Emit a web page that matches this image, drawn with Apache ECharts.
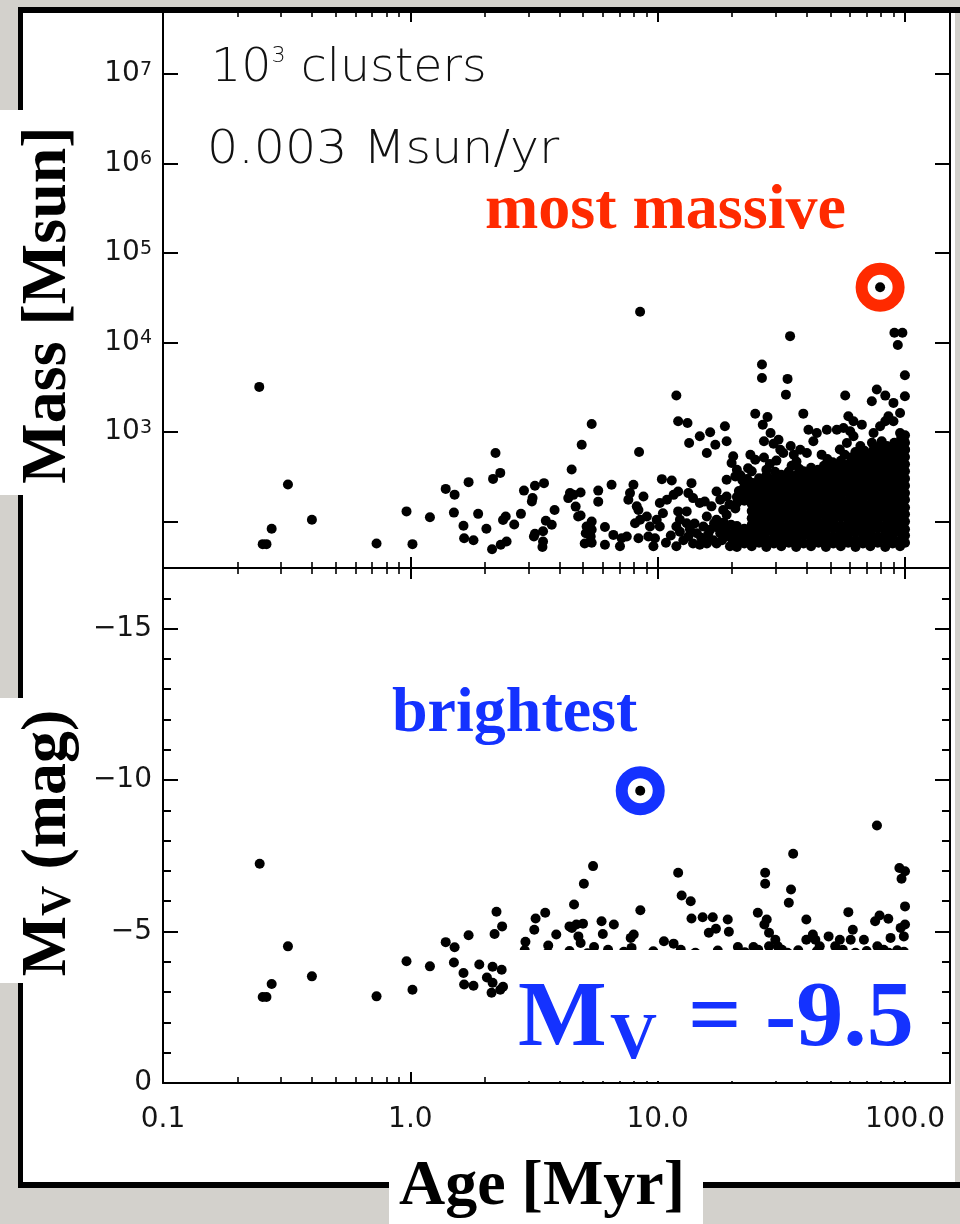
<!DOCTYPE html>
<html>
<head>
<meta charset="utf-8">
<title>Cluster mass and brightness versus age</title>
<script src="https://cdn.jsdelivr.net/npm/echarts@6/dist/echarts.min.js"></script>
<style>
html, body { margin: 0; padding: 0; background: #d3d1cc; }
#chart { width: 960px; height: 1224px; }
</style>
</head>
<body>
<div id="chart"></div>
<script>
// ---------- axis ranges / tick labels ----------
const ageRange = [0.1, 152];
const ageTickLabels = ['0.1', '1.0', '10.0', '100.0'];
const massRange = [30.3, 5.07e7];
const magRange = [-17, 0];

// ---------- texts ----------
const massTitle = 'Mass [Msun]';
const ageTitle = 'Age [Myr]';
const rateText = '0.003 Msun/yr';
const massiveLabel = 'most massive';
const brightLabel = 'brightest';

// ---------- upper panel: cluster mass [Msun] vs age [Myr] ----------
const massYoung = [
 [0.245,3200],[0.32,260],[0.275,83],[0.253,56],[0.262,56],[0.40,105],[0.73,57],[0.965,130],[1.02,56],[1.2,112],
 [1.39,232],[1.51,200],[1.72,276],[1.5,126],[1.64,90],[1.65,65],[1.8,62],[1.88,122],[2.03,83],[2.21,583],
 [2.16,300],[2.31,350],[2.37,104],[2.43,114],[2.14,49],[2.32,55],[2.45,60],[2.63,93],[2.8,122],[2.88,222],
 [3.19,251],[3.47,269],[3.12,183],[3.1,168],[3.83,135],[3.53,102],[3.73,92],[3.44,78],[3.19,73],[3.16,68],
 [3.44,60],[3.42,52],[4.49,382],[4.93,723],[5.41,1230],[4.35,183],[4.56,199],[4.88,211],[4.42,208],[4.66,147],
 [4.77,114],[4.88,117],[5.41,100],[5.16,88],[5.41,81],[5.12,74],[5.36,68],[5.07,57],[5.41,58],[5.75,222],[5.75,167]
];
const massMid = [
 [6.51,258],[6.12,87],[6.12,55],[6.62,71],[7.15,65],[7.04,53],[7.50,68],[7.73,208],[7.98,258],[7.61,175],
 [8.23,148],[8.76,191],[8.36,135],[8.49,105],[8.10,96],[9.04,114],[9.31,88],[8.36,65],[9.17,68],[9.75,65],
 [9.61,53],[8.41,598],[8.49,22100],[10.4,298],[11.4,288],[10.2,161],[10.9,175],[11.6,199],[12.1,217],[9.91,105],
 [10.5,124],[10.2,88],[12.1,130],[13.1,130],[12.3,105],[11.9,88],[13.7,269],[13.3,208],[13.9,183],[14.8,161],
 [15.5,168],[13.1,96],[12.3,77],[13.3,68],[14.4,74],[11.9,53],[13.9,57],[14.8,55],[17.3,217],[17.9,175],
 [16.5,148],[19.0,191],[15.8,114],[17.3,105],[19.0,119],[16.3,81],[17.9,74],[15.8,57],[17.3,57],[19.0,68],
 [19.6,53],[11.9,2560],[12.1,1320],[13.2,1265],[13.4,755],[14.8,897],[16.3,994],[15.8,583],[17.1,723],[18.7,1160],
 [19.0,789],[20.2,536],[19.9,451],[19.0,293],
 [10.8,58],[11.3,70],[12.7,62],[13.5,82],[14.1,95],[15.0,66],[15.3,88],[16.0,72],[16.8,62],[16.9,95],
 [17.6,85],[18.2,62],[18.5,98],[18.9,80],[19.8,92],[20.1,62],[20.4,75],[20.6,140],[19.5,155],[18.4,135],
 [21.3,220],[22.0,290],[21.6,330],[23.0,300],[23.2,395]
];
const massOldHigh = [
 [20.9,379],[20.6,320],[23.7,558],[24.8,491],[24.0,364],[34.3,11800],[90.6,12900],[97.6,12900],[93.5,9380],[26.4,5690],
 [26.4,4030],[33.5,3930],[33.0,2620],[99.9,4320],[99.9,2510],[57.3,2560],[24.8,1600],[27.8,1476],[26.6,1210],[38.8,1607],
 [28.6,977],[26.9,789],[29.4,741],[30.8,822],[31.3,635],[32.2,583],[40.7,1064],[44.0,977],[48.3,1064],[53.0,1064],
 [42.6,789],[37.7,636],[40.1,583],[59.0,1500],[61.9,1320],[66.9,1211],[56.4,1112],[60.0,1021],[61.9,897],[58.2,755],
 [76.9,2985],[83.2,2557],[73.4,2210],[89.8,2120],[85.7,1500],[83.2,1320],[95.5,1637],[89.8,1320],[79.3,1160],[74.6,977],
 [95.5,977],[80.5,789],[98.6,755],[89.8,636],[74.6,636],[79.3,41500]
];
const massOldLace = [
 [26.9,520],[28.4,440],[30.2,480],[27.5,380],[29.8,360],[34.5,700],[35.5,560],[36.4,470],[34.8,420],[37.3,390],
 [46,560],[48.5,500],[51,460],[47,420],[44.5,380],[52.5,380],[54.5,640],[57,560],[60.5,520],[63,600],
 [55.5,450],[62,430],[58.5,400],[66,700],[68.5,620],[71,560],[73.5,760],[75.5,520],[78,680],[80,600],
 [82,540],[84.5,700],[86.5,620],[88.5,520],[90.5,760],[92.5,580],[94.5,680],[96.5,860],[98.5,560],[100,920],
 [100,640],[99,800],[97,480],[93,470],[87,440],[81,460],[76,430],[70,470],[67,520]
];
// dense old low-mass clusters, read column by column (age) from the solid blob
const blobAges = [20.9,22.4,24.0,25.7,27.5,29.5,31.6,33.9,36.3,38.9,41.7,44.7,47.9,51.3,55.0,58.9,63.1,67.6,72.4,77.6,83.2,89.1,95.5,100];
const blobMasses = [
 [52,62,75,89,161,188],
 [57,69,83,171,208,247],
 [53,63,76,92,109,131,157,190,228,272],
 [58,70,84,100,121,146,175,210,252,305],
 [52,63,77,91,111,133,159,192,230,276,328],
 [57,68,82,99,119,144,173,208,250,300],
 [53,64,76,90,110,132,157,190,228,274,333],
 [58,69,84,101,121,145,175,211,252,303,362],
 [52,62,75,92,111,133,159,192,231,277,330],
 [57,70,83,100,119,146,173,208,250,301,365],
 [53,63,77,91,109,131,158,190,229,274,332,400],
 [58,69,82,99,121,144,175,210,253,303,361],
 [52,64,76,92,110,133,157,191,228,276,330,396],
 [57,68,84,101,120,146,174,209,251,300,364,438],
 [53,63,75,90,111,132,159,192,230,275,333,399,477],
 [58,70,83,100,119,145,173,211,250,302,362,435],
 [52,62,77,91,110,131,158,190,229,277,331,397,481],
 [57,69,82,99,121,144,175,208,252,301,363,438,524],
 [53,64,76,92,109,133,157,191,228,274,330,400,478],
 [58,68,84,100,120,146,174,210,251,303,364,436,527],
 [52,63,75,91,111,132,159,190,230,276,332,398,480,574],
 [57,69,83,101,119,145,173,209,250,300,362,437,525,633],
 [53,62,77,90,110,131,158,192,229,275,331,399,477,576,690],
 [58,70,82,100,121,144,175,208,252,302,365,436,526,630,760]
];
const mostMassive = [79.3, 41500];

// ---------- lower panel: absolute V magnitude vs age ----------
const magYoung = [
 [0.246,-7.24],[0.32,-4.51],[0.275,-3.27],[0.253,-2.84],[0.262,-2.84],[0.40,-3.52],[0.73,-2.86],[0.965,-4.02],[1.02,-3.08],[1.2,-3.85],
 [1.39,-4.65],[1.51,-4.48],[1.72,-4.88],[1.5,-3.98],[1.64,-3.63],[1.65,-3.25],[1.8,-3.21],[1.9,-3.91],[2.15,-3.84],[2.34,-3.74],
 [2.04,-3.48],[2.15,-3.31],[2.37,-3.18],[2.13,-2.98],[2.31,-3.08]
];
const magBright = [
 [2.23,-5.65],[2.35,-5.17],[2.19,-4.92],[2.92,-4.66],[3.17,-5.06],[3.21,-5.43],[3.51,-5.62],[3.89,-4.90],[3.61,-4.54],[4.59,-5.89],
 [5.03,-6.58],[5.48,-7.16],[4.40,-5.17],[4.69,-5.23],[4.99,-5.26],[4.50,-5.12],[4.78,-4.84],[4.88,-4.62],[5.53,-4.49],[5.93,-5.34],
 [6.65,-5.23],[6.0,-4.92],[7.78,-4.79],[8.0,-4.90],[7.84,-4.46],[8.51,-5.70],[10.6,-4.68],[11.6,-4.60],[12.1,-6.94],[12.5,-6.19],
 [13.6,-6.0],[13.7,-5.43],[15.2,-5.47],[16.7,-5.47],[19.2,-5.40],[16.1,-4.96],[17.2,-5.09],[19.4,-4.99],[21.1,-4.49],[24.4,-4.49],
 [25.4,-5.62],[27.6,-5.40],[27.0,-5.23],[28.2,-4.96],[29.9,-4.73],[30.6,-4.51],[28.2,-4.51],[31.8,-4.40],[27.2,-6.94],[27.2,-6.58],
 [35.3,-7.57],[34.6,-6.39],[33.9,-5.95],[39.9,-5.40],[42.4,-4.90],[43.4,-4.73],[39.9,-4.73],[49.1,-4.84],[54.5,-4.73],[52.2,-4.51],
 [45.2,-4.51],[60.3,-4.73],[59.0,-5.64],[61.5,-5.06],[68.2,-4.73],[75.7,-5.34],[78.9,-5.53],[85.6,-5.42],[77.3,-4.51],[87.4,-4.79],
 [98.9,-4.84],[94.9,-7.10],[100,-6.99],[96.8,-6.74],[100,-5.83],[100,-5.23],[96,-5.12],[77,-8.5],[8.5,-9.65]
];
const magFaint = [
 [2.9,-4.38],[3.6,-4.3],[4.4,-4.36],[5.2,-4.28],[6.3,-4.4],[7.3,-4.33],[9.6,-4.35],[12.4,-4.4],[14.2,-4.3],[17.5,-4.37],
 [22.5,-4.32],[25.5,-4.4],[33.5,-4.3],[37,-4.38],[44,-4.35],[56,-4.4],[63,-4.3],[70,-4.36],[82,-4.4],[86,-4.3],[93,-4.38],[99,-4.33]
];
const brightest = [8.5, -9.65];
const brightestMag = '-9.5';

// ---------- build series data from the arrays ----------
const upperPoints = [].concat(massYoung, massMid, massOldHigh, massOldLace);
blobAges.forEach((a, i) => blobMasses[i].forEach(m => upperPoints.push([a, m])));
const lowerPoints = [].concat(magYoung, magBright, magFaint);

// ---------- styling ----------
const BLACK = '#000';
const RED = '#ff2a00';
const BLUE = '#1432ff';
const SERIF = '"Liberation Serif", "Times New Roman", serif';
const SANS = '"DejaVu Sans", sans-serif';
const TICKC = '#151515';

function fmtAge(v) {
  const l = Math.log10(v), e = Math.round(l);
  if (Math.abs(l - e) > 1e-6) return '';
  return ageTickLabels[e + 1] || '';
}
function fmtMass(v) {
  const l = Math.log10(v), e = Math.round(l);
  if (Math.abs(l - e) > 1e-6 || e < 3) return '';
  return '{b|10}{s|' + e + '}';
}
function fmtMag(v) {
  if (v === magRange[0]) return '';
  return v < 0 ? '\u2212' + (-v) : '0';
}

const lineStyle = { color: BLACK, width: 2 };

function ageAxis(gridIndex, position, showLabel) {
  return {
    type: 'log', logBase: 10, gridIndex, position,
    min: ageRange[0], max: ageRange[1],
    axisLine: { show: true, onZero: false, lineStyle },
    axisTick: { show: true, inside: true, length: 11, lineStyle },
    minorTick: { show: true, splitNumber: 9, length: 6, lineStyle: { color: BLACK, width: 1.6 } },
    axisLabel: { show: showLabel, margin: 23, color: TICKC, fontFamily: SANS, fontSize: 28, formatter: fmtAge },
    splitLine: { show: false }, minorSplitLine: { show: false }
  };
}
function massAxis(position, showLabel) {
  return {
    type: 'log', logBase: 10, gridIndex: 0, position,
    min: massRange[0], max: massRange[1],
    axisLine: { show: true, onZero: false, lineStyle },
    axisTick: { show: true, inside: true, length: 15, lineStyle },
    minorTick: { show: false },
    axisLabel: {
      show: showLabel, margin: 11, formatter: fmtMass,
      rich: {
        b: { fontFamily: SANS, fontSize: 28, color: TICKC },
        s: { fontFamily: SANS, fontSize: 19, color: TICKC, verticalAlign: 'top' }
      }
    },
    splitLine: { show: false }
  };
}
function magAxis(position, showLabel) {
  return {
    type: 'value', gridIndex: 1, position, inverse: true,
    min: magRange[0], max: magRange[1], splitNumber: 3,
    axisLine: { show: true, onZero: false, lineStyle },
    axisTick: { show: true, inside: true, length: 15, lineStyle },
    minorTick: { show: true, splitNumber: 5, length: 8, lineStyle },
    axisLabel: { show: showLabel, margin: 11, color: TICKC, fontFamily: SANS, fontSize: 28, formatter: fmtMag },
    splitLine: { show: false }, minorSplitLine: { show: false }
  };
}

const graphic = [
  // photo frame
  { type: 'rect', z: -2, shape: { x: 18, y: 7, width: 937, height: 1181 }, style: { fill: '#fff' } },
  { type: 'rect', z: -1, shape: { x: 18, y: 7, width: 942, height: 6 }, style: { fill: BLACK } },
  { type: 'rect', z: -1, shape: { x: 18, y: 7, width: 5, height: 1181 }, style: { fill: BLACK } },
  { type: 'rect', z: -1, shape: { x: 18, y: 1182, width: 942, height: 6 }, style: { fill: BLACK } },
  // white label boxes
  { type: 'rect', z: 20, shape: { x: 0, y: 110, width: 88, height: 385 }, style: { fill: '#fff' } },
  { type: 'rect', z: 20, shape: { x: 0, y: 698, width: 88, height: 285 }, style: { fill: '#fff' } },
  { type: 'rect', z: 20, shape: { x: 389, y: 1160, width: 314, height: 64 }, style: { fill: '#fff' } },
  { type: 'rect', z: 20, shape: { x: 508, y: 950, width: 425, height: 131 }, style: { fill: '#fff' } },
  // axis titles
  { type: 'text', z: 21, x: 48, y: 305, rotation: Math.PI / 2,
    style: { text: massTitle, fontFamily: SERIF, fontWeight: 'bold', fontSize: 64, fill: BLACK, align: 'center', verticalAlign: 'middle' } },
  { type: 'text', z: 21, x: 48, y: 843, rotation: Math.PI / 2,
    style: { text: '{m|M}{v|V}{m| (mag)}', fill: BLACK, align: 'center', verticalAlign: 'middle',
      rich: { m: { fontFamily: SERIF, fontWeight: 'bold', fontSize: 64, fill: BLACK },
              v: { fontFamily: SERIF, fontWeight: 'bold', fontSize: 42, fill: BLACK, verticalAlign: 'bottom' } } } },
  { type: 'text', z: 21, x: 542, y: 1187,
    style: { text: ageTitle, fontFamily: SERIF, fontWeight: 'bold', fontSize: 64, fill: BLACK, align: 'center', verticalAlign: 'middle' } },
  // panel notes
  { type: 'text', z: 21, x: 211, y: 69, scaleX: 1.01,
    style: { text: '{a|10}{s|3}{a| clusters}', fill: '#111', align: 'left', verticalAlign: 'middle',
      rich: { a: { fontFamily: SANS, fontWeight: 200, fontSize: 47, fill: '#111' },
              s: { fontFamily: SANS, fontWeight: 200, fontSize: 22, fill: '#111', verticalAlign: 'top' } } } },
  { type: 'text', z: 21, x: 207, y: 151, scaleX: 1.045,
    style: { text: rateText, fontFamily: SANS, fontWeight: 200, fontSize: 47, fill: '#111', align: 'left', verticalAlign: 'middle' } },
  { type: 'text', z: 21, x: 485, y: 211,
    style: { text: massiveLabel, fontFamily: SERIF, fontWeight: 'bold', fontSize: 64, fill: RED, align: 'left', verticalAlign: 'middle' } },
  { type: 'text', z: 21, x: 392, y: 714,
    style: { text: brightLabel, fontFamily: SERIF, fontWeight: 'bold', fontSize: 64, fill: BLUE, align: 'left', verticalAlign: 'middle' } },
  // big M_V = -9.5
  { type: 'text', z: 21, x: 518, y: 1021,
    style: { text: 'M', fontFamily: SERIF, fontWeight: 'bold', fontSize: 94, fill: BLUE, align: 'left', verticalAlign: 'middle' } },
  { type: 'text', z: 21, x: 610, y: 1041,
    style: { text: 'V', fontFamily: SERIF, fontWeight: 'bold', fontSize: 65, fill: BLUE, align: 'left', verticalAlign: 'middle' } },
  { type: 'text', z: 21, x: 688, y: 1021,
    style: { text: '= ' + brightestMag, fontFamily: SERIF, fontWeight: 'bold', fontSize: 94, fill: BLUE, align: 'left', verticalAlign: 'middle' } }
];

const option = {
  backgroundColor: '#d3d1cc',
  animation: false,
  grid: [
    { left: 163, top: 11, width: 787, height: 557 },
    { left: 163, top: 568, width: 787, height: 515 }
  ],
  xAxis: [
    ageAxis(0, 'bottom', false),
    ageAxis(0, 'top', false),
    ageAxis(1, 'bottom', true),
    ageAxis(1, 'top', false)
  ],
  yAxis: [
    massAxis('left', true),
    massAxis('right', false),
    magAxis('left', true),
    magAxis('right', false)
  ],
  graphic,
  series: [
    { name: 'most massive', type: 'scatter', xAxisIndex: 0, yAxisIndex: 0, data: [mostMassive], symbol: 'circle', symbolSize: 37,
      itemStyle: { color: '#fff', borderColor: RED, borderWidth: 12, opacity: 1 }, z: 3, silent: true },
    { name: 'mass', type: 'scatter', xAxisIndex: 0, yAxisIndex: 0, data: upperPoints, symbol: 'circle', symbolSize: 10,
      itemStyle: { color: BLACK, opacity: 1 }, z: 4, progressive: 0, silent: true },
    { name: 'brightest', type: 'scatter', xAxisIndex: 2, yAxisIndex: 2, data: [brightest], symbol: 'circle', symbolSize: 37,
      itemStyle: { color: '#fff', borderColor: BLUE, borderWidth: 12, opacity: 1 }, z: 3, silent: true },
    { name: 'MV', type: 'scatter', xAxisIndex: 2, yAxisIndex: 2, data: lowerPoints, symbol: 'circle', symbolSize: 10,
      itemStyle: { color: BLACK, opacity: 1 }, z: 4, progressive: 0, silent: true }
  ]
};

const chart = echarts.init(document.getElementById('chart'), null, { renderer: 'canvas', width: 960, height: 1224 });
chart.setOption(option);
</script>
</body>
</html>
